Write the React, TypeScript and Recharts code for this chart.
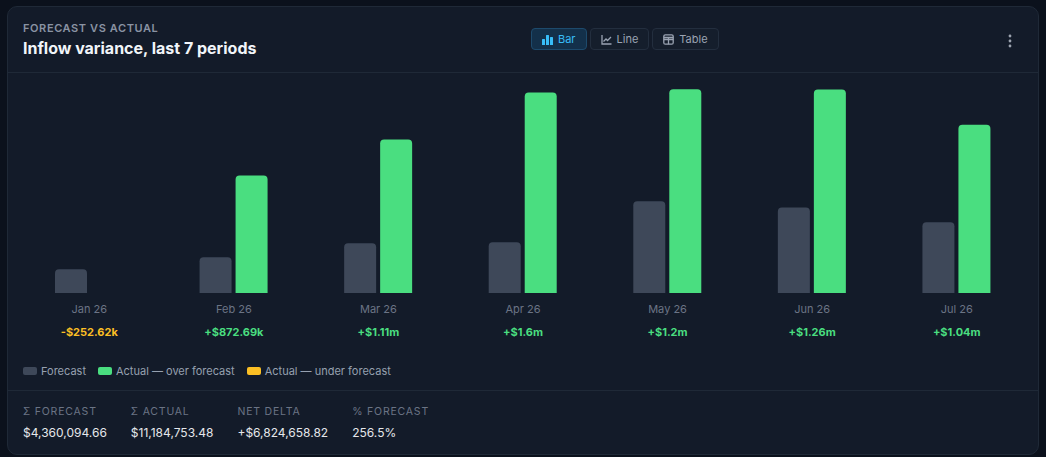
import React from "react";
import { BarChart, Bar, XAxis, YAxis, Cell } from "recharts";

// periods shown on the x axis
const periods = ["Jan 26", "Feb 26", "Mar 26", "Apr 26", "May 26", "Jun 26", "Jul 26"];
// forecast inflow per period ($)
const forecast = [252618.4, 383120.5, 531870.25, 543210.8, 978540.6, 914330.15, 756403.96];
// actual inflow per period ($)
const actual = [0, 1255807.9, 1639711.45, 2141523.25, 2177145.5, 2173447.48, 1797117.9];

const C = {
  page: "#0b111c",
  card: "#131b29",
  border: "#1f2937",
  forecast: "#3e4859",
  over: "#4ade80",
  under: "#fbbf24",
  muted: "#6b7485",
  text: "#e5e7eb",
};

const data = periods.map((p, i) => ({
  period: p,
  forecast: forecast[i],
  actual: actual[i],
  delta: actual[i] - forecast[i],
}));

function short(v: number) {
  const a = Math.abs(v);
  const trim = (s: string) => s.replace(/\.?0+$/, "");
  const body = a >= 1e6 ? trim((a / 1e6).toFixed(2)) + "m" : trim((a / 1e3).toFixed(2)) + "k";
  return (v < 0 ? "-$" : "+$") + body;
}

function money(v: number) {
  return "$" + Math.abs(v).toLocaleString("en-US", { minimumFractionDigits: 2, maximumFractionDigits: 2 });
}

function PeriodTick(props: any) {
  const { x, y, payload, index } = props;
  const d = data[index];
  return (
    <g>
      <text x={x} y={y} dy={12} textAnchor="middle" fontSize={11} fill={C.muted}>
        {payload.value}
      </text>
      <text x={x} y={y} dy={35} textAnchor="middle" fontSize={11} fontWeight={700} fill={d && d.delta < 0 ? C.under : C.over}>
        {d ? short(d.delta) : ""}
      </text>
    </g>
  );
}

const btn: React.CSSProperties = {
  height: 22,
  boxSizing: "border-box",
  display: "flex",
  alignItems: "center",
  gap: 5,
  padding: "0 10px",
  borderRadius: 4,
  border: "1px solid #232e3e",
  background: "#151e2c",
  color: "#9aa3b2",
  fontSize: 11,
};

export default function App() {
  const sumF = forecast.reduce((a, b) => a + b, 0);
  const sumA = actual.reduce((a, b) => a + b, 0);
  const net = sumA - sumF;
  const pct = ((sumA / sumF) * 100).toFixed(1) + "%";
  const stats = [
    ["Σ FORECAST", money(sumF)],
    ["Σ ACTUAL", money(sumA)],
    ["NET DELTA", (net < 0 ? "-" : "+") + money(net)],
    ["% FORECAST", pct],
  ];
  const legend = [
    ["Forecast", C.forecast],
    ["Actual — over forecast", C.over],
    ["Actual — under forecast", C.under],
  ];

  return (
    <div style={{ width: 1046, height: 457, background: C.page, position: "relative", fontFamily: "Inter, sans-serif" }}>
      <style>{`body{margin:0;background:${C.page}}`}</style>
      <div
        style={{
          position: "absolute",
          left: 7,
          top: 6,
          width: 1032,
          height: 449,
          boxSizing: "border-box",
          background: C.card,
          border: "1px solid " + C.border,
          borderRadius: 10,
          overflow: "hidden",
        }}
      >
        <div style={{ position: "absolute", left: 15, top: 14, fontSize: 11, fontWeight: 600, letterSpacing: 0.6, color: "#8a93a3" }}>
          FORECAST VS ACTUAL
        </div>
        <div style={{ position: "absolute", left: 15, top: 31, fontSize: 16, fontWeight: 700, color: "#f1f5f9" }}>
          Inflow variance, last 7 periods
        </div>
        <div style={{ position: "absolute", left: 523, top: 21, display: "flex", gap: 3 }}>
          <div style={{ ...btn, background: "#13304a", border: "1px solid #1d4a6c", color: "#38bdf8" }}>
            <svg width="11" height="11" viewBox="0 0 11 11">
              <rect x="0" y="5" width="3" height="6" rx="0.5" fill="#38bdf8" />
              <rect x="4" y="1" width="3" height="10" rx="0.5" fill="#38bdf8" />
              <rect x="8" y="3" width="3" height="8" rx="0.5" fill="#38bdf8" />
            </svg>
            Bar
          </div>
          <div style={btn}>
            <svg width="11" height="11" viewBox="0 0 11 11" fill="none" stroke="#9aa3b2" strokeWidth="1.3">
              <path d="M1 1 V10 H10.5" />
              <path d="M2.5 7.5 L5 5 L6.5 6.5 L10 3" />
            </svg>
            Line
          </div>
          <div style={btn}>
            <svg width="11" height="11" viewBox="0 0 11 11" fill="none" stroke="#9aa3b2" strokeWidth="1.3">
              <rect x="0.8" y="0.8" width="9.4" height="9.4" rx="1.5" />
              <path d="M0.8 5.5 H10.2 M5.5 3.5 V10.2 M0.8 3.5 H10.2" />
            </svg>
            Table
          </div>
        </div>
        <svg style={{ position: "absolute", left: 998, top: 27 }} width="8" height="16" viewBox="0 0 8 16">
          <circle cx="4" cy="2" r="1.4" fill="#9ca3af" />
          <circle cx="4" cy="7" r="1.4" fill="#9ca3af" />
          <circle cx="4" cy="12" r="1.4" fill="#9ca3af" />
        </svg>
        <div style={{ position: "absolute", left: 0, right: 0, top: 65, height: 1, background: C.border }} />

        <div style={{ position: "absolute", left: 0, top: 66 }}>
          <BarChart width={1030} height={270} data={data} margin={{ top: 14, right: 9, left: 9, bottom: 0 }} barSize={32} barGap={4}>
            <XAxis dataKey="period" axisLine={false} tickLine={false} height={50} interval={0} tick={<PeriodTick />} />
            <YAxis hide domain={[0, 2200000]} />
            <Bar dataKey="forecast" fill={C.forecast} radius={[4, 4, 0, 0]} isAnimationActive={false} />
            <Bar dataKey="actual" radius={[4, 4, 0, 0]} isAnimationActive={false}>
              {data.map((d, i) => (
                <Cell key={i} fill={d.actual >= d.forecast ? C.over : C.under} />
              ))}
            </Bar>
          </BarChart>
        </div>

        <div style={{ position: "absolute", left: 15, top: 357, display: "flex", gap: 12, fontSize: 11, color: "#96a0af" }}>
          {legend.map(([name, col]) => (
            <div key={name} style={{ display: "flex", alignItems: "center", gap: 4 }}>
              <span style={{ width: 14, height: 8, borderRadius: 2, background: col, display: "inline-block" }} />
              {name}
            </div>
          ))}
        </div>
        <div style={{ position: "absolute", left: 0, right: 0, top: 383, height: 1, background: C.border }} />

        <div style={{ position: "absolute", left: 15, top: 398, display: "flex", gap: 24 }}>
          {stats.map(([k, v]) => (
            <div key={k}>
              <div style={{ fontSize: 10.5, letterSpacing: 0.8, color: "#6b7485" }}>{k}</div>
              <div style={{ fontSize: 12, color: C.text, marginTop: 7 }}>{v}</div>
            </div>
          ))}
        </div>
      </div>
    </div>
  );
}
